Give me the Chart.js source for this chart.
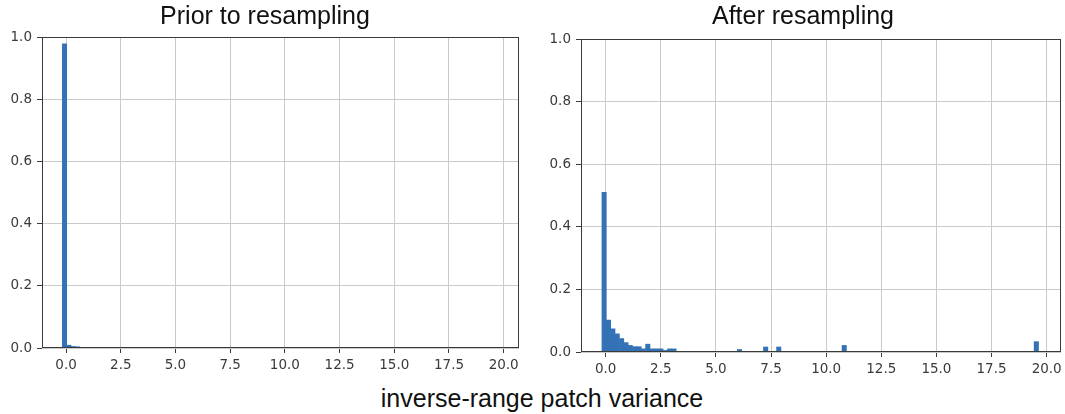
<!DOCTYPE html>
<html>
<head>
<meta charset="utf-8">
<title>Inverse-range patch variance</title>
<script src="https://cdn.jsdelivr.net/npm/chart.js@4.4.1/dist/chart.umd.min.js"></script>
<style>
  body { margin: 0; background: #fff; }
  #page { position: relative; width: 1065px; height: 414px; overflow: hidden; }
  canvas { position: absolute; top: 0; }
  .label {
    position: absolute;
    font-family: "Liberation Sans", Arial, sans-serif;
    font-size: 25px;
    line-height: 25px;
    color: #111;
    white-space: nowrap;
    transform: translateX(-50%);
  }
</style>
</head>
<body>
<div id="page">
  <canvas id="priorChart" width="530" height="380" style="left:0"></canvas>
  <canvas id="afterChart" width="525" height="384" style="left:540px"></canvas>
  <div class="label" style="left:265px; top:3px">Prior to resampling</div>
  <div class="label" style="left:803px; top:3px">After resampling</div>
  <div class="label" style="left:542px; top:386px">inverse-range patch variance</div>
</div>
<script>
// Histogram bin centres (bins are ~0.198 wide) and normalised counts
const priorBins = [-0.071, 0.127, 0.325, 0.523];
const priorValues = [0.978, 0.009, 0.005, 0.004];

const afterBins = [-0.071, 0.127, 0.325, 0.523, 0.721, 0.919, 1.117, 1.315, 1.513,
    1.711, 1.909, 2.107, 2.305, 2.503, 2.701, 2.899, 3.097,
    6.067, 7.255, 7.849, 10.819, 19.531];
const afterValues = [0.51, 0.102, 0.074, 0.058, 0.043, 0.030, 0.021, 0.017, 0.017,
    0.010, 0.025, 0.010, 0.010, 0.010, 0.005, 0.010, 0.010,
    0.008, 0.016, 0.016, 0.021, 0.033];

const xTicks = [0, 2.5, 5, 7.5, 10, 12.5, 15, 17.5, 20];
const yTicks = [0, 0.2, 0.4, 0.6, 0.8, 1.0];

const barColor = '#3373b5';
const gridColor = '#cacaca';
const axisColor = '#3a3a3a';
const tickFont = { family: '"DejaVu Sans", sans-serif', size: 13.5 };

// matplotlib-style box round the plot area
const framePlugin = {
    id: 'frame',
    afterDatasetsDraw(chart) {
        const { ctx, chartArea } = chart;
        ctx.save();
        ctx.strokeStyle = axisColor;
        ctx.lineWidth = 1;
        ctx.strokeRect(Math.round(chartArea.left) + 0.5, Math.round(chartArea.top) + 0.5,
            Math.round(chartArea.right - chartArea.left) - 1, Math.round(chartArea.bottom - chartArea.top) - 1);
        ctx.restore();
    }
};

function makeHistogram(canvasId, bins, values, layout) {
    const ctx = document.getElementById(canvasId);
    return new Chart(ctx, {
        type: 'bar',
        data: {
            datasets: [{
                data: bins.map((x, i) => ({ x: x, y: values[i] })),
                backgroundColor: barColor,
                borderWidth: 0,
                barPercentage: 1,
                categoryPercentage: 1
            }]
        },
        options: {
            responsive: false,
            animation: false,
            layout: { padding: layout.padding },
            plugins: {
                legend: { display: false },
                tooltip: { enabled: false }
            },
            scales: {
                x: {
                    type: 'linear',
                    offset: false,
                    min: layout.xMin,
                    max: layout.xMax,
                    afterBuildTicks: scale => { scale.ticks = xTicks.map(v => ({ value: v })); },
                    afterFit: scale => {
                        scale.height = 32;
                        scale.paddingLeft = 0;
                        scale.paddingRight = 0;
                    },
                    ticks: {
                        callback: v => v.toFixed(1),
                        color: axisColor,
                        font: tickFont,
                        padding: 4,
                        maxRotation: 0
                    },
                    grid: { offset: false, color: gridColor, tickColor: axisColor, tickLength: 5 },
                    border: { display: false }
                },
                y: {
                    min: 0,
                    max: 1,
                    afterBuildTicks: scale => { scale.ticks = yTicks.map(v => ({ value: v })); },
                    afterFit: scale => {
                        scale.width = layout.yWidth;
                        scale.paddingTop = 0;
                        scale.paddingBottom = 0;
                    },
                    ticks: {
                        callback: v => v.toFixed(1),
                        color: axisColor,
                        font: tickFont,
                        padding: 5
                    },
                    grid: { color: gridColor, tickColor: axisColor, tickLength: 5 },
                    border: { display: false }
                }
            }
        },
        plugins: [framePlugin]
    });
}

makeHistogram('priorChart', priorBins, priorValues, {
    padding: { top: 37, right: 11, left: 0, bottom: 0 },
    yWidth: 42,
    xMin: -1.1,
    xMax: 20.7
});

makeHistogram('afterChart', afterBins, afterValues, {
    padding: { top: 39, right: 4, left: 0, bottom: 0 },
    yWidth: 41,
    xMin: -1.12,
    xMax: 20.65
});
</script>
</body>
</html>
